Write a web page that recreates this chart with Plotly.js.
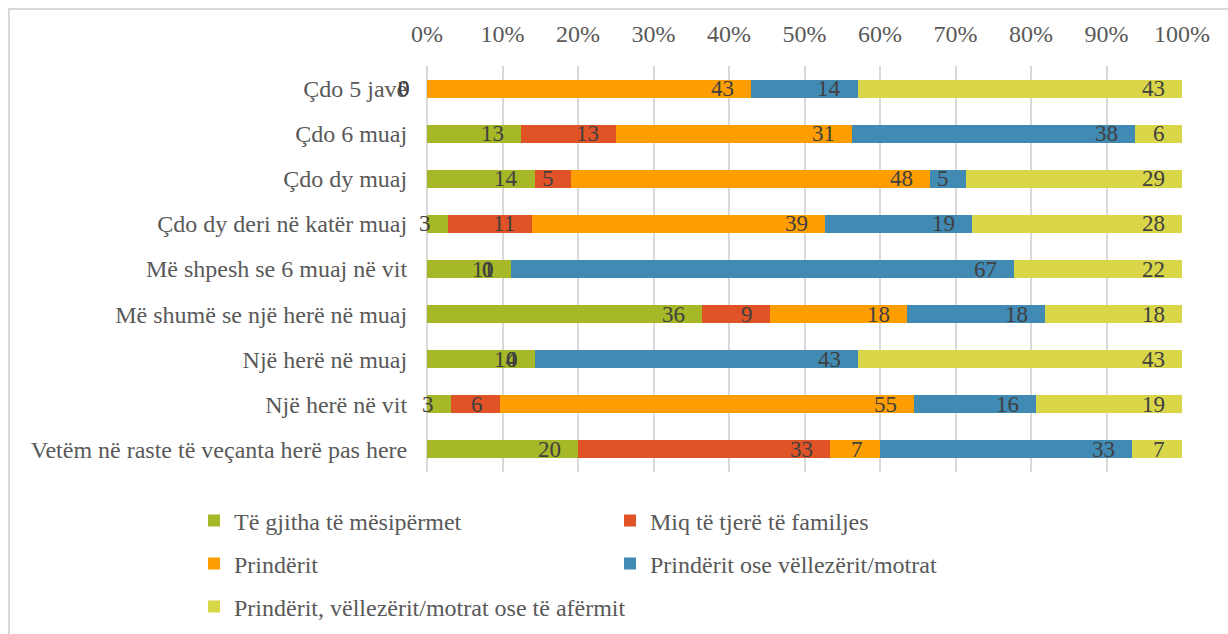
<!DOCTYPE html>
<html>
<head>
<meta charset="utf-8">
<script src="https://cdn.plot.ly/plotly-3.0.1.min.js"></script>
<style>
html,body{margin:0;padding:0;background:#fff;}
#chart{width:1228px;height:634px;}
</style>
</head>
<body>
<div id="chart"></div>
<script>
const categories = [
  "Çdo 5 javë",
  "Çdo 6 muaj",
  "Çdo dy muaj",
  "Çdo dy deri në katër muaj",
  "Më shpesh se 6 muaj në vit",
  "Më shumë se një herë në muaj",
  "Një herë në muaj",
  "Një herë në vit",
  "Vetëm në raste të veçanta herë pas here"
];
const seriesNames = [
  "Të gjitha të mësipërmet",
  "Miq të tjerë të familjes",
  "Prindërit",
  "Prindërit ose vëllezërit/motrat",
  "Prindërit, vëllezërit/motrat ose të afërmit"
];
const allAbove = [0, 12.5, 14.29, 2.78, 11.11, 36.36, 14.28, 3.23, 20];
const otherFamily = [0, 12.5, 4.76, 11.11, 0, 9.09, 0, 6.45, 33.33];
const parents = [42.86, 31.25, 47.62, 38.89, 0, 18.18, 0, 54.84, 6.67];
const parentsSiblings = [14.28, 37.5, 4.76, 19.44, 66.67, 18.18, 42.86, 16.13, 33.33];
const parentsSiblingsRelatives = [42.86, 6.25, 28.57, 27.78, 22.22, 18.18, 42.86, 19.35, 6.67];
const xTickValues = [0, 10, 20, 30, 40, 50, 60, 70, 80, 90, 100];

const seriesValues = [allAbove, otherFamily, parents, parentsSiblings, parentsSiblingsRelatives];
const colors = ["#A6B727", "#DF5327", "#FE9E00", "#418AB3", "#D9D64A"];
const legendIds = ["legend", "legend2", "legend3", "legend4", "legend5"];

const FONT = 'Liberation Serif, Times New Roman, serif';

const traces = seriesValues.map((vals, i) => ({
  type: "bar",
  orientation: "h",
  name: seriesNames[i],
  y: categories,
  x: vals,
  marker: {color: colors[i], line: {width: 0}},
  legend: legendIds[i],
  hoverinfo: "x+y+name"
}));

// data labels: inside end of each segment (including zero segments)
const annotations = [];
categories.forEach((cat, r) => {
  let cum = 0;
  seriesValues.forEach((vals) => {
    cum += vals[r];
    annotations.push({
      x: Math.min(cum, 100), y: cat, xref: "x", yref: "y",
      text: String(Math.round(vals[r])),
      showarrow: false, xanchor: "right", yanchor: "middle",
      xshift: -15,
      font: {family: FONT, size: 23, color: "#404040"}
    });
  });
});

// legend placement (paper coords; plot area 427..1182 x 66..472 px)
const px2x = p => (p - 427) / 755;
const px2y = p => (472 - p) / 406;
const legendPos = [
  [194, 521], [610, 521],
  [194, 564], [610, 564],
  [194, 607]
];
const legendFont = {family: FONT, size: 24, color: "#595959"};
const layout = {
  width: 1228, height: 634,
  margin: {l: 427, r: 46, t: 66, b: 162, autoexpand: false},
  font: {family: FONT, size: 24, color: "#595959"},
  paper_bgcolor: "#ffffff",
  plot_bgcolor: "#ffffff",
  barmode: "stack",
  bargap: 0.6,
  showlegend: true,
  xaxis: {
    side: "top",
    range: [0, 100],
    tickvals: xTickValues,
    ticktext: xTickValues.map(v => v + "%"),
    showgrid: true, gridcolor: "#D9D9D9", gridwidth: 2,
    zeroline: true, zerolinecolor: "#D9D9D9", zerolinewidth: 2,
    showline: false,
    ticks: "outside", ticklen: 13, tickcolor: "rgba(0,0,0,0)",
    tickfont: {family: FONT, size: 24, color: "#595959"},
    fixedrange: true
  },
  yaxis: {
    autorange: "reversed",
    showgrid: false, zeroline: false, showline: false,
    ticks: "outside", ticklen: 14, tickcolor: "rgba(0,0,0,0)",
    tickfont: {family: FONT, size: 24, color: "#595959"},
    fixedrange: true
  },
  annotations: annotations,
  shapes: [{
    type: "rect", xref: "paper", yref: "paper",
    x0: px2x(9), x1: px2x(1260), y0: px2y(700), y1: px2y(9),
    line: {color: "#D9D9D9", width: 2}, fillcolor: "rgba(0,0,0,0)", layer: "below"
  }]
};
legendIds.forEach((id, i) => {
  layout[id] = {
    x: px2x(legendPos[i][0]), y: px2y(legendPos[i][1]),
    xanchor: "left", yanchor: "middle",
    orientation: "h",
    bgcolor: "rgba(0,0,0,0)", borderwidth: 0,
    font: legendFont
  };
});

Plotly.newPlot("chart", traces, layout, {displayModeBar: false});
</script>
</body>
</html>
